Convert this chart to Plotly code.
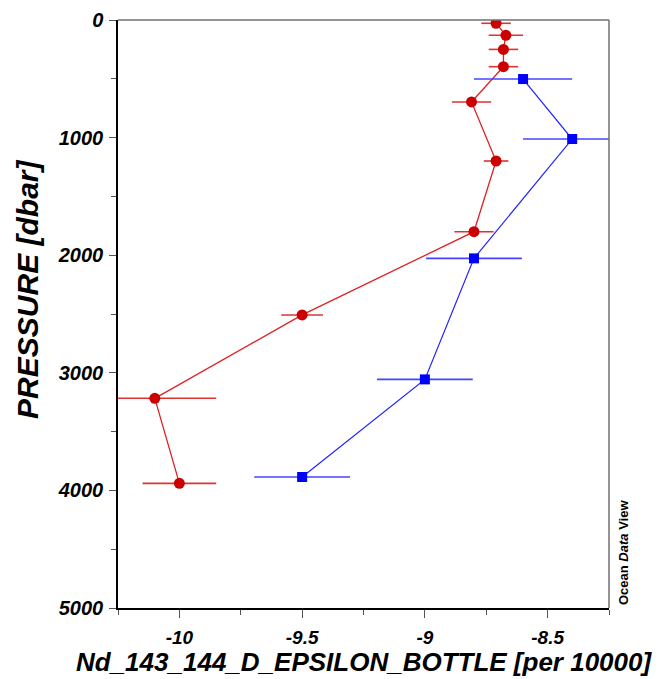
import plotly.graph_objects as go

# Red series (circles)
red_eps = [-8.71, -8.67, -8.68, -8.68, -8.81, -8.71, -8.80, -9.50, -10.10, -10.00]
red_pres = [28, 130, 250, 397, 697, 1199, 1800, 2508, 3217, 3940]
red_err = [0.06, 0.07, 0.06, 0.06, 0.08, 0.05, 0.08, 0.085, 0.25, 0.15]

# Blue series (squares)
blue_eps = [-8.60, -8.40, -8.80, -9.00, -9.50]
blue_pres = [502, 1012, 2027, 3056, 3886]
blue_err = [0.20, 0.20, 0.195, 0.195, 0.195]

x_ticks = [-10, -9.5, -9, -8.5]
x_tick_labels = ["-10", "-9.5", "-9", "-8.5"]
y_ticks = [0, 1000, 2000, 3000, 4000, 5000]
y_tick_labels = ["0", "1000", "2000", "3000", "4000", "5000"]

FONT = "Liberation Sans, Arial, sans-serif"

fig = go.Figure()
fig.add_trace(go.Scatter(
    x=red_eps, y=red_pres, mode="lines+markers",
    line=dict(color="#dd2222", width=1.3),
    marker=dict(symbol="circle", size=11, color="#cc0000"),
    error_x=dict(type="data", array=red_err, visible=True, width=0,
                 thickness=1.6, color="#dd3333"),
    showlegend=False,
))
fig.add_trace(go.Scatter(
    x=blue_eps, y=blue_pres, mode="lines+markers",
    line=dict(color="#2222ff", width=1.2),
    marker=dict(symbol="square", size=10, color="#0000ff"),
    error_x=dict(type="data", array=blue_err, visible=True, width=0,
                 thickness=1.6, color="#4444ff"),
    showlegend=False,
))

fig.update_xaxes(
    range=[-10.25, -8.25], tickvals=x_ticks,
    ticktext=["<b><i>%s</i></b>" % t for t in x_tick_labels],
    ticks="outside", ticklen=8, tickwidth=1, tickcolor="#555",
    minor=dict(dtick=0.25, tick0=0, ticks="outside", ticklen=5, tickcolor="#555", tickwidth=1),
    showline=True, linecolor="black", linewidth=1.5,
    showgrid=False, zeroline=False,
    tickfont=dict(family=FONT, size=19, color="black"), ticklabelstandoff=3,
    automargin=False,
)
fig.update_yaxes(
    range=[5000, 0], tickvals=y_ticks,
    ticktext=["<b><i>%s</i></b>" % t for t in y_tick_labels],
    ticks="outside", ticklen=7, tickwidth=1, tickcolor="#555",
    minor=dict(dtick=500, tick0=0, ticks="outside", ticklen=5, tickcolor="#555", tickwidth=1),
    showline=True, linecolor="black", linewidth=1.5,
    showgrid=False, zeroline=False,
    tickfont=dict(family=FONT, size=20, color="black"), ticklabelstandoff=2,
    automargin=False,
)

fig.update_layout(
    width=661, height=679,
    margin=dict(l=110, r=60, t=12, b=79, pad=0, autoexpand=False),
    plot_bgcolor="white", paper_bgcolor="white",
    font=dict(family=FONT),
    shapes=[
        dict(type="line", xref="paper", yref="paper", x0=0, x1=1, y0=1, y1=1,
             line=dict(color="#707070", width=1.5)),
        dict(type="line", xref="paper", yref="paper", x0=1, x1=1, y0=0, y1=1,
             line=dict(color="#707070", width=1.5)),
    ],
    annotations=[
        dict(text="<b><i>Nd_143_144_D_EPSILON_BOTTLE [per 10000]</i></b>",
             xref="paper", yref="paper", x=0.5, y=0, yshift=-54,
             showarrow=False, xanchor="center", yanchor="middle",
             font=dict(family=FONT, size=26, color="black")),
        dict(text="<b><i>PRESSURE [dbar]</i></b>", textangle=-90,
             xref="paper", yref="paper", x=0, y=0.541, xshift=-90,
             showarrow=False, xanchor="center", yanchor="middle",
             font=dict(family=FONT, size=30, color="black")),
        dict(text="<b>Ocean <i>Data</i> View</b>", textangle=-90,
             xref="paper", yref="paper", x=1, y=(608 - 553) / 588, xshift=14,
             showarrow=False, xanchor="center", yanchor="middle",
             font=dict(family=FONT, size=13, color="black")),
    ],
)

fig.write_html("out.html")
